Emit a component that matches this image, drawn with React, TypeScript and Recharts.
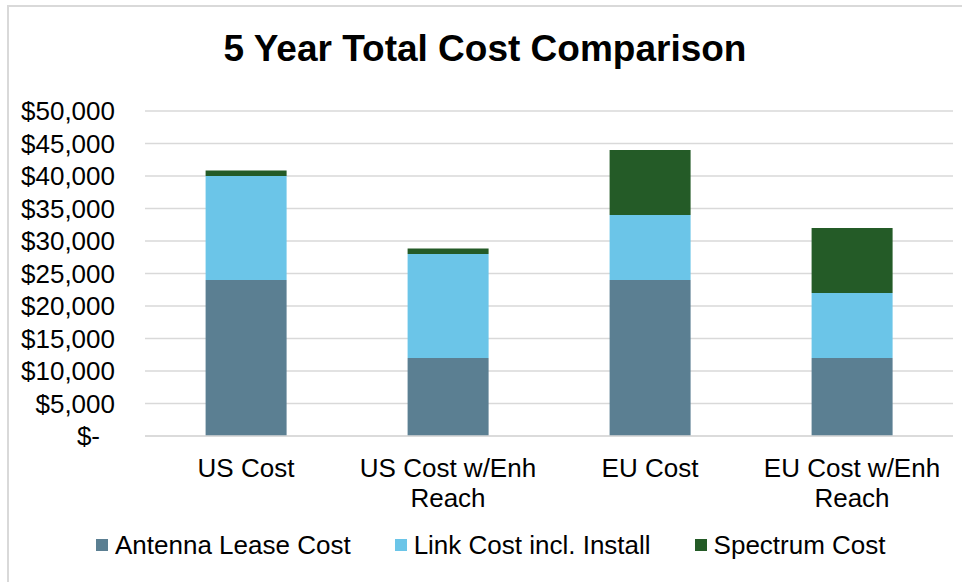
import React from 'react';
import { BarChart, Bar, XAxis, YAxis, CartesianGrid } from 'recharts';

const categories = ['US Cost', 'US Cost w/Enh Reach', 'EU Cost', 'EU Cost w/Enh Reach'];
const antennaLease = [24000, 12000, 24000, 12000];
const linkCost = [16000, 16000, 10000, 10000];
const spectrumCost = [850, 850, 10000, 10000];
const yTicks = [0, 5000, 10000, 15000, 20000, 25000, 30000, 35000, 40000, 45000, 50000];

const series = [
  { key: 'antenna', name: 'Antenna Lease Cost', color: '#5B7F92', values: antennaLease },
  { key: 'link', name: 'Link Cost incl. Install', color: '#6BC5E8', values: linkCost },
  { key: 'spectrum', name: 'Spectrum Cost', color: '#245B27', values: spectrumCost },
];

const data = categories.map((c, i) => {
  const row: any = { name: c };
  series.forEach((s) => (row[s.key] = s.values[i]));
  return row;
});

const FONT = '"Liberation Sans", Arial, sans-serif';

const fmt = (v: number) => (v === 0 ? '$-' : '$' + v.toLocaleString('en-US'));

let ctx: CanvasRenderingContext2D | null = null;
const measure = (s: string) => {
  if (!ctx) {
    const c = document.createElement('canvas');
    ctx = c.getContext('2d');
  }
  if (!ctx) return s.length * 13;
  ctx.font = '26px "Liberation Sans", Arial, sans-serif';
  return ctx.measureText(s).width;
};

const wrap = (label: string, maxW: number) => {
  const words = label.split(' ');
  const lines: string[] = [];
  let cur = '';
  words.forEach((w) => {
    const t = cur ? cur + ' ' + w : w;
    if (cur && measure(t) > maxW) {
      lines.push(cur);
      cur = w;
    } else cur = t;
  });
  if (cur) lines.push(cur);
  return lines;
};

const YTick = (props: any) => {
  const { x, y, payload } = props;
  const v = payload.value;
  return (
    <text
      x={v === 0 ? x - 15 : x}
      y={y}
      dy={9}
      textAnchor="end"
      fontFamily={FONT}
      fontSize={26}
      fill="#000"
    >
      {fmt(v)}
    </text>
  );
};

const XTick = (props: any) => {
  const { x, y, payload } = props;
  const lines = wrap(String(payload.value), 190);
  return (
    <text x={x} y={y} textAnchor="middle" fontFamily={FONT} fontSize={26} fill="#000">
      {lines.map((l, i) => (
        <tspan key={i} x={x} dy={i === 0 ? 18.5 : 30}>
          {l}
        </tspan>
      ))}
    </text>
  );
};

export default function App() {
  return (
    <div
      style={{
        position: 'absolute',
        left: 0,
        top: 0,
        width: 962,
        height: 582,
        background: '#fff',
        overflow: 'hidden',
      }}
    >
      <div
        style={{
          position: 'absolute',
          left: 7,
          top: 5,
          right: -10,
          bottom: -10,
          borderTop: '2px solid #d9d9d9',
          borderLeft: '2px solid #d9d9d9',
        }}
      />
      <div
        style={{
          position: 'absolute',
          left: 8,
          width: 954,
          top: 30,
          textAlign: 'center',
          fontFamily: FONT,
          fontWeight: 'bold',
          fontSize: 37,
          lineHeight: '37px',
          color: '#000',
        }}
      >
        5 Year Total Cost Comparison
      </div>
      <div style={{ position: 'absolute', left: 0, top: 0 }}>
        <BarChart
          width={962}
          height={582}
          data={data}
          margin={{ top: 111, right: 9, bottom: 26, left: 0 }}
          barCategoryGap="30%"
        >
          <CartesianGrid vertical={false} stroke="#d9d9d9" strokeWidth={1.5} />
          <XAxis
            dataKey="name"
            height={120}
            tickSize={0}
            tickMargin={22}
            axisLine={{ stroke: '#d9d9d9', strokeWidth: 1.5 }}
            tickLine={false}
            interval={0}
            tick={<XTick />}
          />
          <YAxis
            width={145}
            domain={[0, 50000]}
            ticks={yTicks}
            tickSize={0}
            tickMargin={30}
            axisLine={false}
            tickLine={false}
            interval={0}
            tick={<YTick />}
          />
          {series.map((s) => (
            <Bar
              key={s.key}
              dataKey={s.key}
              name={s.name}
              stackId="a"
              fill={s.color}
              isAnimationActive={false}
            />
          ))}
        </BarChart>
      </div>
      <div
        style={{
          position: 'absolute',
          left: 96,
          top: 530,
          height: 30,
          display: 'flex',
          alignItems: 'center',
          fontFamily: FONT,
          fontSize: 26,
          color: '#000',
          whiteSpace: 'nowrap',
        }}
      >
        {series.map((s) => (
          <div key={s.key} style={{ display: 'flex', alignItems: 'center', marginRight: 44 }}>
            <div style={{ width: 12, height: 12, background: s.color, marginRight: 7 }} />
            <span>{s.name}</span>
          </div>
        ))}
      </div>
    </div>
  );
}
